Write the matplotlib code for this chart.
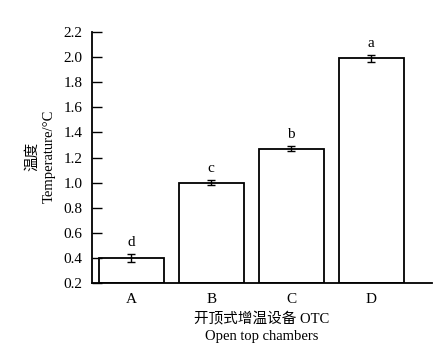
import matplotlib
matplotlib.use('Agg')
import matplotlib.pyplot as plt

plt.rcParams['font.family'] = ['Liberation Serif', 'Noto Sans CJK SC']
plt.rcParams['font.size'] = 11

groups = ['A', 'B', 'C', 'D']
temps = [0.40, 1.00, 1.27, 1.99]
errs = [0.03, 0.02, 0.02, 0.025]
letters = ['d', 'c', 'b', 'a']

fig = plt.figure(figsize=(4.44, 3.52), dpi=100)
ax = fig.add_axes([0.207, 0.196, 0.766, 0.713])
x = range(len(groups))
ax.bar(x, [t - 0.2 for t in temps], bottom=0.2, width=0.81,
       color='white', edgecolor='black', linewidth=1.3)
ax.errorbar(x, temps, yerr=errs, fmt='none', ecolor='black',
            elinewidth=1, capsize=3, capthick=1)
for i, (t, e, l) in enumerate(zip(temps, errs, letters)):
    ax.text(i, t + e + 0.04, l, ha='center', va='bottom', fontsize=11)

ax.set_xlim(-0.49, 3.76)
ax.set_ylim(0.2, 2.2)
ax.set_yticks([0.2 + 0.2 * k for k in range(11)])
ax.set_yticklabels(['%.1f' % (0.2 + 0.2 * k) for k in range(11)])
ax.set_xticks(list(x))
ax.set_xticklabels(groups)
ax.tick_params(axis='y', direction='in', length=7, width=1, pad=7, labelsize=11)
ax.tick_params(axis='x', length=0, pad=7, labelsize=11)
ax.spines['top'].set_visible(False)
ax.spines['right'].set_visible(False)
ax.spines['left'].set_linewidth(1.3)
ax.spines['bottom'].set_linewidth(1.3)

fig.text(0.073, 0.555, '温度', rotation=90, ha='center', va='center', fontsize=10.5)
fig.text(0.112, 0.555, 'Temperature/°C', rotation=90, ha='center', va='center', fontsize=10.5)
fig.text(0.59, 0.093, '开顶式增温设备 OTC', ha='center', va='center', fontsize=10.5)
fig.text(0.59, 0.043, 'Open top chambers', ha='center', va='center', fontsize=10.5)

plt.savefig('out.png', dpi=100)
